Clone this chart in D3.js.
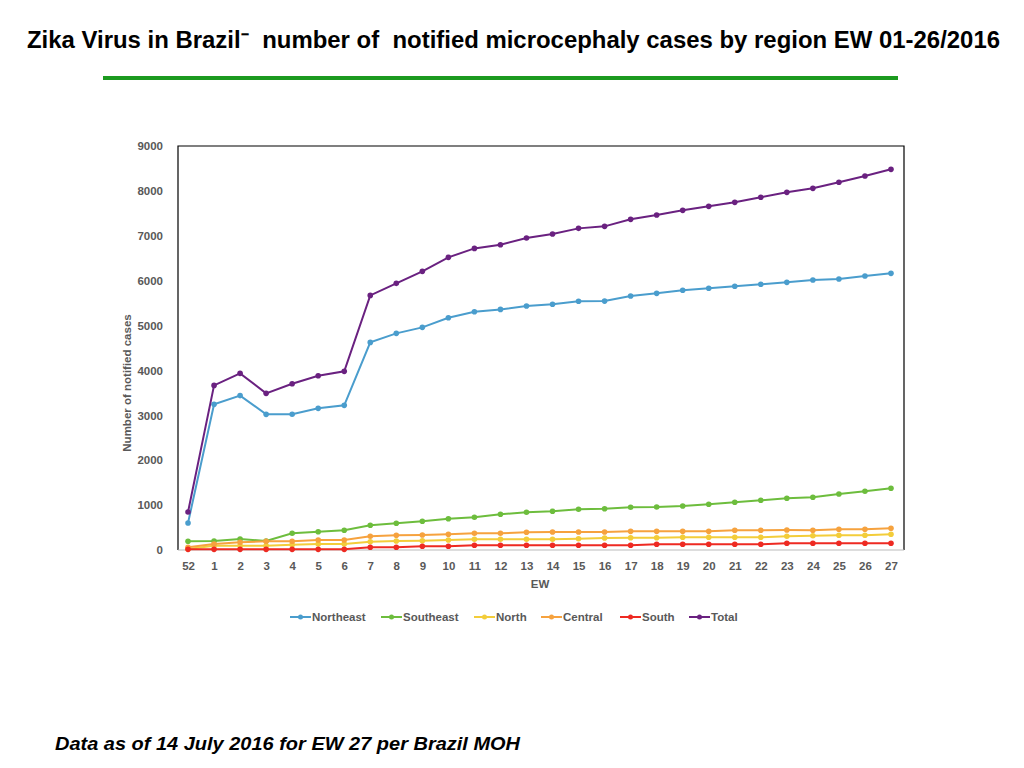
<!DOCTYPE html>
<html>
<head>
<meta charset="utf-8">
<script src="https://d3js.org/d3.v7.min.js"></script>
<style>
  body { margin: 0; background: #fff; }
  text { font-family: 'Liberation Sans', Arial, Helvetica, sans-serif; }
  .tick text { font-weight: bold; font-size: 11.5px; fill: #595959; }
  .lbl { font-weight: bold; font-size: 11.5px; fill: #595959; }
</style>
</head>
<body>
<svg id="chart" width="1024" height="768"></svg>
<script>
  // epidemiological weeks (52 = last week of 2015)
  const weeks = ['52', '1', '2', '3', '4', '5', '6', '7', '8', '9', '10', '11', '12', '13',
    '14', '15', '16', '17', '18', '19', '20', '21', '22', '23', '24', '25', '26', '27'];

  const northeast = [601, 3245, 3440, 3022, 3025, 3156, 3222, 4625, 4826, 4960, 5174, 5308, 5360, 5434,
    5473, 5540, 5545, 5658, 5718, 5785, 5830, 5874, 5919, 5963, 6015, 6037, 6104, 6163];
  const southeast = [194, 200, 245, 200, 372, 408, 439, 550, 595, 639, 697, 728, 795, 840,
    862, 907, 920, 951, 958, 980, 1018, 1063, 1107, 1152, 1174, 1248, 1308, 1374];
  const north = [22, 96, 96, 96, 118, 134, 134, 185, 200, 207, 223, 238, 238, 238,
    238, 252, 267, 274, 274, 283, 283, 283, 283, 305, 319, 327, 327, 350];
  const central = [60, 134, 171, 194, 194, 223, 223, 305, 327, 334, 350, 372, 372, 394,
    401, 401, 401, 416, 416, 416, 416, 439, 439, 445, 439, 461, 461, 483];
  const south = [15, 15, 15, 15, 15, 15, 15, 60, 60, 82, 82, 105, 105, 105,
    105, 105, 105, 105, 127, 127, 127, 127, 127, 149, 149, 149, 149, 149];
  const total = [846, 3667, 3935, 3490, 3704, 3882, 3980, 5672, 5940, 6207, 6519, 6719, 6800, 6949,
    7039, 7165, 7210, 7366, 7463, 7567, 7656, 7745, 7857, 7968, 8057, 8191, 8331, 8480];

  const yTicks = [0, 1000, 2000, 3000, 4000, 5000, 6000, 7000, 8000, 9000];

  const series = [
    { name: 'Northeast', values: northeast, color: '#4a9dcd' },
    { name: 'Southeast', values: southeast, color: '#6dbd3d' },
    { name: 'North', values: north, color: '#f3cd3a' },
    { name: 'Central', values: central, color: '#f6a23e' },
    { name: 'South', values: south, color: '#ee2a22' },
    { name: 'Total', values: total, color: '#6a2180' }
  ];

  const svg = d3.select('#chart');
  const plotL = 178, plotR = 904, plotT = 146, plotB = 550;

  // title (condensed look: squeeze a larger font into the same width)
  svg.append('text')
    .attr('x', 27).attr('y', 48)
    .attr('textLength', 973).attr('lengthAdjust', 'spacingAndGlyphs')
    .style('font-size', '23px').style('font-weight', 'bold').style('white-space', 'pre')
    .text('Zika Virus in Brazil\u207B  number of  notified microcephaly cases by region EW 01-26/2016');

  svg.append('line')
    .attr('x1', 103).attr('x2', 898).attr('y1', 78).attr('y2', 78)
    .attr('stroke', '#1c9a1f').attr('stroke-width', 4);

  const x = d3.scalePoint().domain(weeks).range([plotL - 3, plotR]).padding(0.5);
  const y = d3.scaleLinear().domain([0, 9000]).range([plotB, plotT]);

  // frame
  svg.append('path')
    .attr('d', `M${plotL},${plotB}V${plotT}H${plotR}V${plotB}`)
    .attr('fill', 'none').attr('stroke', '#000').attr('stroke-width', 1.2);
  svg.append('line')
    .attr('x1', plotL).attr('x2', plotR).attr('y1', plotB).attr('y2', plotB)
    .attr('stroke', '#bbb').attr('stroke-width', 1);

  const yAxis = svg.append('g')
    .attr('transform', `translate(${plotL - 12},0)`)
    .call(d3.axisLeft(y).tickValues(yTicks).tickSize(0).tickFormat(d3.format('d')));
  yAxis.select('.domain').remove();

  const xAxis = svg.append('g')
    .attr('transform', `translate(0,${plotB + 9})`)
    .call(d3.axisBottom(x).tickSize(0));
  xAxis.select('.domain').remove();

  svg.append('text').attr('class', 'lbl')
    .attr('transform', `translate(131,${(plotT + plotB) / 2 + 35}) rotate(-90)`)
    .attr('text-anchor', 'middle')
    .text('Number of notified cases');

  svg.append('text').attr('class', 'lbl')
    .attr('x', 540).attr('y', 588).attr('text-anchor', 'middle')
    .text('EW');

  const line = d3.line().x((d, i) => x(weeks[i])).y(d => y(d));

  series.forEach(s => {
    const g = svg.append('g');
    g.append('path')
      .attr('d', line(s.values))
      .attr('fill', 'none').attr('stroke', s.color).attr('stroke-width', 2);
    g.selectAll('circle').data(s.values).join('circle')
      .attr('cx', (d, i) => x(weeks[i])).attr('cy', d => y(d))
      .attr('r', 2.8).attr('fill', s.color);
  });

  // legend
  const legendX = [290, 381, 474, 541, 620, 689];
  const legend = svg.append('g').attr('transform', 'translate(0,617)');
  series.forEach((s, i) => {
    const g = legend.append('g').attr('transform', `translate(${legendX[i]},0)`);
    g.append('line').attr('x1', 0).attr('x2', 21).attr('y1', 0).attr('y2', 0)
      .attr('stroke', s.color).attr('stroke-width', 2);
    g.append('circle').attr('cx', 10.5).attr('cy', 0).attr('r', 2.5).attr('fill', s.color);
    g.append('text').attr('class', 'lbl').attr('x', 22).attr('y', 4).text(s.name);
  });

  svg.append('text')
    .attr('x', 55).attr('y', 750)
    .attr('textLength', 465).attr('lengthAdjust', 'spacingAndGlyphs')
    .style('font-size', '18.5px').style('font-weight', 'bold').style('font-style', 'italic')
    .text('Data as of 14 July 2016 for EW 27 per Brazil MOH');
</script>
</body>
</html>
